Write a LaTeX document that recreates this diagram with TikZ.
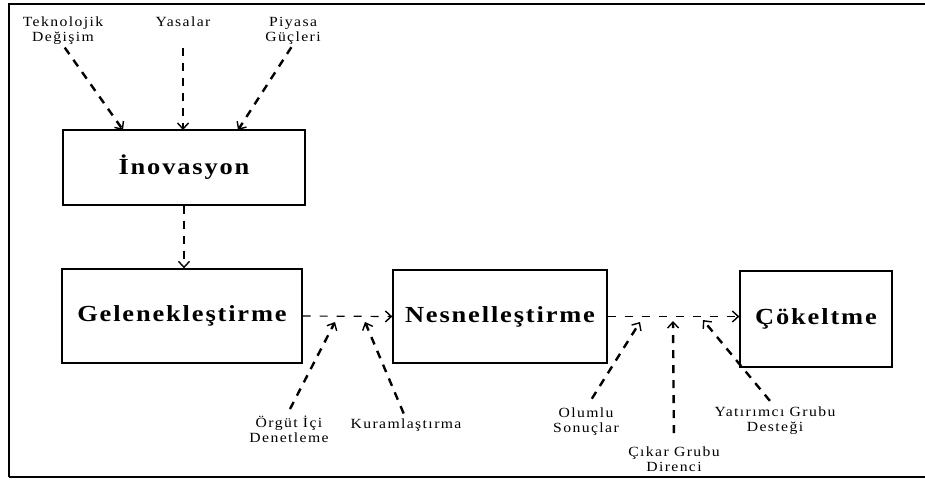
\documentclass[tikz,border=0pt]{standalone}
\usepackage{fontspec}
\setmainfont{Liberation Serif}
\newfontfamily\stagefam[FakeStretch=1.15,LetterSpace=8]{Liberation Serif}
\newfontfamily\notefam[FakeStretch=1.12,LetterSpace=10]{Liberation Serif}
\newcommand\stagefont{\stagefam\bfseries\fontsize{23}{27}\selectfont}
\newcommand\notefont{\notefam\fontsize{14}{15}\selectfont}
\usetikzlibrary{arrows.meta,calc}

\begin{document}
\begin{tikzpicture}[x=1pt,y=-1pt,
  stage/.style={draw, line width=1.3pt, inner sep=0pt, font=\stagefont},
  note/.style={inner sep=0pt, align=center, font=\notefont, anchor=north},
  tipbarb/.style={-{Straight Barb[length=6pt,width=11pt,line width=1.4pt]}},
  feed/.style={line width=2.4pt, dash pattern=on 8pt off 7pt, tipbarb},
  flow/.style={line width=1.2pt, dash pattern=on 8pt off 9pt, tipbarb}]

\useasboundingbox (0,0) rectangle (925,482);

% outer frame (open on the right)
\draw[line width=1.4pt] (925,4) -- (9,4) -- (9,477);
\draw[line width=2.4pt] (9,477) -- (925,477);

% stage boxes
\node[stage, minimum width=242pt, minimum height=75pt] (ino) at (184,167.5) {İnovasyon};
\node[stage, minimum width=240pt, minimum height=94pt] (gel) at (182,316) {Gelenekleştirme};
\node[stage, minimum width=214pt, minimum height=93pt] (nes) at (500,316.5) {Nesnelleştirme};
\node[stage, minimum width=152pt, minimum height=96pt] (cok) at (816,319) {Çökeltme};

% external forces
\node[note] (tek) at (63,17) {Teknolojik\\Değişim};
\node[note] (yas) at (183,17) {Yasalar};
\node[note] (piy) at (293,17) {Piyasa\\Güçleri};

% influences along the flow
\node[note] (org) at (289,416) {Örgüt İçi\\Denetleme};
\node[note] (kur) at (406,419) {Kuramlaştırma};
\node[note] (olu) at (586,408) {Olumlu\\Sonuçlar};
\node[note] (cik) at (674,447) {Çıkar Grubu\\Direnci};
\node[note] (yat) at (775,407) {Yatırımcı Grubu\\Desteği};

% connection points
\coordinate (inoA) at (123,130);
\coordinate (inoB) at (183,130);
\coordinate (inoC) at (238,130);
\coordinate (lineA) at (335,322);
\coordinate (lineB) at (365,322);
\coordinate (lineC) at (640,322);
\coordinate (lineD) at (673,321);
\coordinate (lineE) at (703,320);

% arrows into the innovation box
\draw[feed, shorten <=3pt] (tek.south) -- (inoA);
\draw[feed] (yas |- tek.south) ++(0,3) -- (inoB);
\draw[feed, shorten <=3pt] (piy.south) -- (inoC);

% main flow
\draw[feed] (ino.south) -- (ino.south |- gel.north);
\draw[flow] (gel.east) -- (nes.west);
\draw[flow] (nes.east) -- (nes.east -| cok.west);

% influence arrows
\draw[feed] ($(org.north)+(1,-7)$) -- (lineA);
\draw[feed, shorten <=6pt] (kur.north) -- (lineB);
\draw[feed, shorten <=11pt] (olu.north) -- (lineC);
\draw[feed, shorten <=14pt] (cik.north) -- (lineD);
\draw[feed, shorten <=8pt] (yat.north) -- (lineE);
\end{tikzpicture}
\end{document}
